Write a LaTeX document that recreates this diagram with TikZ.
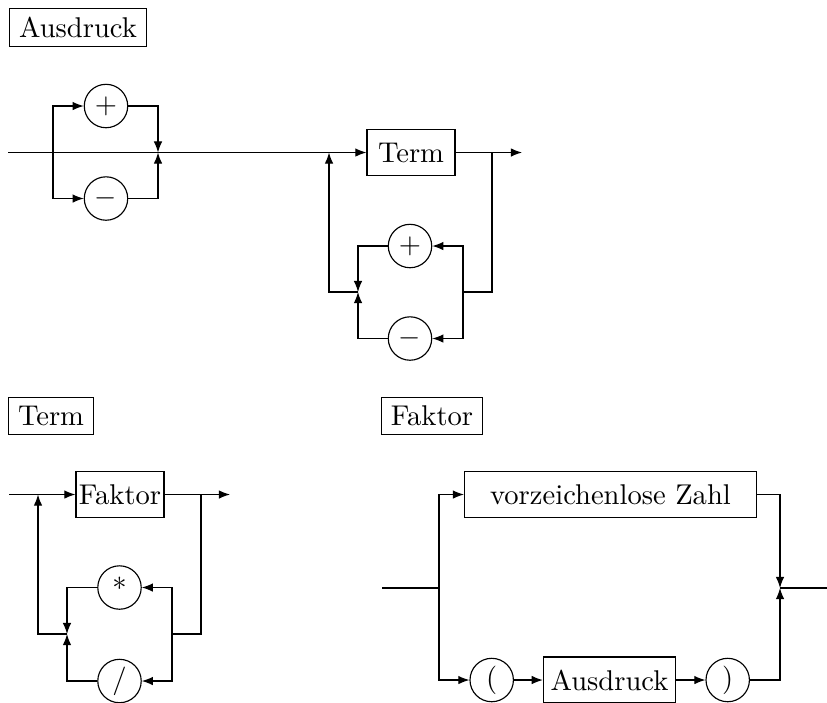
\documentclass[tikz,border=0pt]{standalone}
\usetikzlibrary{arrows.meta}
\tikzset{
  flow/.style={-{Latex[length=3.9pt,width=3pt]}},
  lbl/.style={draw, inner xsep=3.3pt, inner ysep=3pt},
  ntbox/.style={draw, inner sep=0pt, minimum height=16.1pt},
  sym/.style={draw, circle, inner sep=0pt, minimum size=15.2pt},
}
\begin{document}
\begin{tikzpicture}[x=0.35pt, y=-0.35pt, line width=0.4pt]
\path[use as bounding box, clip] (0,0) rectangle (827,702);

% ---------- Ausdruck ----------
\node[lbl] (lAus) at (78,27.5) {Ausdruck};
\coordinate (a0) at (8,152.5);
\coordinate (aS) at (53,152.5);
\coordinate (aJ) at (158,152.5);
\coordinate (aL) at (329,152.5);
\coordinate (aR) at (492,152.5);
\coordinate (aE) at (522,152.5);
\coordinate (lr) at (463,292);
\coordinate (lj) at (358,292);
\node[sym] (p1) at (106,106) {$+$};
\node[sym] (m1) at (106,198.5) {$-$};
\node[ntbox, minimum width=30.8pt] (t1) at (411,152.5) {Term};
\node[sym] (p2) at (410,246) {$+$};
\node[sym] (m2) at (410,338.5) {$-$};

\draw[flow] (a0) -- (t1);
\draw[flow] (aS) |- (p1);
\draw[flow] (aS) |- (m1);
\draw[flow] (p1) -| (aJ);
\draw[flow] (m1) -| (aJ);
\draw[flow] (t1) -- (aE);
\draw (aR) |- (lr);
\draw[flow] (lr) |- (p2);
\draw[flow] (lr) |- (m2);
\draw[flow] (p2) -| (lj);
\draw[flow] (m2) -| (lj);
\draw[flow] (lj) -| (aL);

% ---------- Term ----------
\node[lbl] (lTerm) at (51,415.7) {Term};
\coordinate (t0) at (9,494.5);
\coordinate (tS) at (38,494.5);
\coordinate (tR) at (201,494.5);
\coordinate (tE) at (230,494.5);
\coordinate (rr) at (172,634);
\coordinate (jj) at (67,634);
\node[ntbox, minimum width=30.8pt] (fk) at (120,494.5) {Faktor};
\node[sym] (star) at (119.5,587.5) {*};
\node[sym] (slash) at (119.5,681) {/};

\draw[flow] (t0) -- (fk);
\draw[flow] (fk) -- (tE);
\draw (tR) |- (rr);
\draw[flow] (rr) |- (star);
\draw[flow] (rr) |- (slash);
\draw[flow] (star) -| (jj);
\draw[flow] (slash) -| (jj);
\draw[flow] (jj) -| (tS);

% ---------- Faktor ----------
\node[lbl] (lFak) at (432,415.7) {Faktor};
\coordinate (f0) at (382,588);
\coordinate (fS) at (439,588);
\coordinate (fJ) at (780,588);
\coordinate (fE) at (830,588);
\node[ntbox, minimum width=102.2pt] (vz) at (610.5,494.5) {vorzeichenlose Zahl};
\node[sym] (lp) at (491.7,680) {(};
\node[ntbox, minimum width=46.3pt] (au) at (609.5,680) {Ausdruck};
\node[sym] (rp) at (727.7,680) {)};

\draw (f0) -- (fS);
\draw (fJ) -- (fE);
\draw[flow] (fS) |- (vz);
\draw[flow] (fS) |- (lp);
\draw[flow] (lp) -- (au);
\draw[flow] (au) -- (rp);
\draw[flow] (vz) -| (fJ);
\draw[flow] (rp) -| (fJ);
\end{tikzpicture}
\end{document}
